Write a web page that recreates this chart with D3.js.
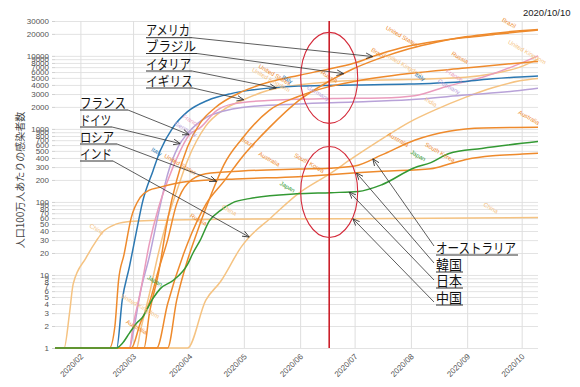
<!DOCTYPE html>
<html>
<head>
<meta charset="utf-8">
<script src="https://cdnjs.cloudflare.com/ajax/libs/d3/7.8.5/d3.min.js"></script>
<style>
    body { margin: 0; background: #fff; }
    #chart { width: 580px; height: 387px; }
    .axis text { font-family: Arial, "Liberation Sans", sans-serif; fill: #555; }
</style>
</head>
<body>
<div id="chart"></div>
<script>
// cumulative cases per million people (values below 1 sit on the 1 line)
const chinaCases = [["2020-01-18",1],["2020-01-23",1],["2020-01-26",3],["2020-01-28",7.5],["2020-02-04",17],["2020-02-10",30],["2020-02-13",38],["2020-02-21",50],["2020-02-28",54],["2020-03-15",56],["2020-04-20",58],["2020-06-30",59],["2020-10-10",61]];
const indiaCases = [["2020-01-18",1],["2020-03-31",1],["2020-04-10",4.5],["2020-04-18",8],["2020-04-30",25],["2020-05-04",33],["2020-05-15",58],["2020-05-31",130],["2020-06-17",240],["2020-06-30",400],["2020-07-15",700],["2020-07-31",1230],["2020-08-15",1850],["2020-08-31",2700],["2020-09-15",3650],["2020-09-30",4550],["2020-10-10",4900]];
const ukCases = [["2020-01-18",1],["2020-03-03",1],["2020-03-05",1.7],["2020-03-10",5.5],["2020-03-15",20],["2020-03-20",59],["2020-03-25",140],["2020-03-31",370],["2020-04-10",1090],["2020-04-20",1840],["2020-04-30",2450],["2020-05-15",3400],["2020-05-31",4000],["2020-06-17",4400],["2020-06-30",4600],["2020-07-31",4750],["2020-08-31",5100],["2020-09-15",5700],["2020-09-30",7000],["2020-10-10",9000]];
const germanyCases = [["2020-01-18",1],["2020-02-28",1],["2020-03-01",1.6],["2020-03-05",5.8],["2020-03-10",18],["2020-03-15",70],["2020-03-20",238],["2020-03-26",580],["2020-03-31",865],["2020-04-10",1420],["2020-04-20",1755],["2020-04-30",1965],["2020-05-31",2200],["2020-06-30",2330],["2020-07-31",2500],["2020-08-31",2900],["2020-09-30",3350],["2020-10-10",3600]];
const franceCases = [["2020-01-18",1],["2020-02-28",1],["2020-03-01",2],["2020-03-05",5.8],["2020-03-10",27],["2020-03-15",83],["2020-03-20",193],["2020-03-25",392],["2020-04-01",830],["2020-04-07",1040],["2020-04-16",1780],["2020-04-25",2200],["2020-05-14",2450],["2020-06-19",2600],["2020-07-16",2650],["2020-08-03",2850],["2020-08-22",3900],["2020-09-09",5050],["2020-09-27",7300],["2020-10-10",10000]];
const italyCases = [["2020-01-18",1],["2020-02-21",1],["2020-02-24",4.5],["2020-02-28",13],["2020-03-03",41],["2020-03-06",95],["2020-03-12",268],["2020-03-16",505],["2020-03-23",1050],["2020-03-31",1720],["2020-04-11",2450],["2020-04-24",3040],["2020-05-03",3340],["2020-05-31",3850],["2020-06-30",3990],["2020-07-31",4110],["2020-08-31",4460],["2020-09-15",4850],["2020-09-30",5150],["2020-10-10",5300]];
const japanCases = [["2020-01-18",1],["2020-02-21",1],["2020-02-24",1.15],["2020-02-28",1.6],["2020-03-03",2.2],["2020-03-06",2.6],["2020-03-12",4.8],["2020-03-16",6.5],["2020-03-23",8.4],["2020-03-31",14],["2020-04-03",20],["2020-04-07",30],["2020-04-12",55],["2020-04-18",76],["2020-04-25",98],["2020-05-04",111],["2020-05-30",129],["2020-06-18",134],["2020-07-03",139],["2020-07-16",172],["2020-08-03",294],["2020-08-12",345],["2020-08-22",460],["2020-09-09",540],["2020-10-10",670]];
const koreaCases = [["2020-01-18",1],["2020-02-17",1],["2020-02-20",2],["2020-02-22",8.4],["2020-02-25",19],["2020-02-29",61],["2020-03-05",116],["2020-03-10",145],["2020-03-15",157],["2020-03-31",190],["2020-04-30",208],["2020-05-31",222],["2020-06-17",236],["2020-07-02",250],["2020-07-16",263],["2020-08-12",285],["2020-08-22",330],["2020-09-01",385],["2020-09-15",430],["2020-09-30",450],["2020-10-10",465]];
const australiaCases = [["2020-01-18",1],["2020-02-29",1],["2020-03-05",2.2],["2020-03-10",4.2],["2020-03-15",11.7],["2020-03-20",30],["2020-03-25",94],["2020-03-31",179],["2020-04-10",243],["2020-04-30",265],["2020-05-31",282],["2020-06-17",290],["2020-07-01",310],["2020-07-16",440],["2020-08-03",700],["2020-08-22",930],["2020-09-10",1030],["2020-10-10",1050]];
const russiaCases = [["2020-01-18",1],["2020-03-20",1],["2020-03-25",4.5],["2020-03-31",16],["2020-04-05",37],["2020-04-10",81],["2020-04-15",168],["2020-04-20",322],["2020-04-30",733],["2020-05-15",1795],["2020-05-31",2775],["2020-06-17",3790],["2020-06-30",4430],["2020-07-31",5720],["2020-08-31",6800],["2020-09-30",8000],["2020-10-10",8400]];
const brazilCases = [["2020-01-18",1],["2020-03-14",1],["2020-03-20",4],["2020-03-31",27],["2020-04-10",92],["2020-04-20",191],["2020-04-30",410],["2020-05-15",1040],["2020-05-31",2420],["2020-06-17",4500],["2020-06-30",6600],["2020-07-15",9300],["2020-07-31",12500],["2020-08-15",15400],["2020-08-31",18200],["2020-09-15",20300],["2020-09-30",22000],["2020-10-10",23000]];
const usCases = [["2020-01-18",1],["2020-03-07",1],["2020-03-10",3],["2020-03-15",10.6],["2020-03-20",57],["2020-03-25",197],["2020-03-31",568],["2020-04-07",1210],["2020-04-15",1930],["2020-04-30",3230],["2020-05-15",4380],["2020-05-31",5400],["2020-06-17",6600],["2020-06-30",7850],["2020-07-15",10600],["2020-07-31",13600],["2020-08-15",15800],["2020-08-31",17800],["2020-09-15",19500],["2020-09-30",21300],["2020-10-10",22500]];

const yTicks = [1,2,3,4,5,6,7,8,9,10,20,30,40,50,60,70,80,90,100,200,300,400,500,600,700,800,900,
    1000,2000,3000,4000,5000,6000,7000,8000,9000,10000,20000,30000];
const dateRange = ["2020-01-18", "2020-10-10"];
const asOfDate = "2020/10/10";
const yTitle = "人口100万人あたりの感染者数";
const markDate = "2020-06-17";
const circleValues = [5000, 137];

// small in-line labels: country, date along its line, vertical offset
const lineLabels = [
    ["China","2020-02-10",-11],["Australia","2020-03-03",-6],["United Kingdom","2020-03-05",-25],
    ["Japan","2020-03-13",-15],["Italy","2020-03-14",-9],["United States","2020-03-27",-5],
    ["Germany","2020-03-30",-7],["France","2020-04-02",-13],["Russia","2020-04-06",-9],
    ["China","2020-04-23",-9],["Brazil","2020-05-03",-9],["Australia","2020-05-15",-11],
    ["United Kingdom","2020-05-16",-10],["United States","2020-05-18",-6],["Italy","2020-05-25",-8],
    ["Japan","2020-05-25",-8],["South Korea","2020-06-06",-13],["Germany","2020-06-11",-10],
    ["Russia","2020-06-17",-10],["Brazil","2020-07-14",-6],["Australia","2020-07-25",-8],
    ["United States","2020-07-27",-12],["United Kingdom","2020-07-28",-15],["Japan","2020-08-05",-11],
    ["Italy","2020-08-06",-7],["India","2020-08-12",-10],["South Korea","2020-08-17",-14],
    ["Germany","2020-08-22",-10],["France","2020-08-25",-9],["Russia","2020-08-28",-11],
    ["China","2020-09-14",-10],["Brazil","2020-09-24",-9],["United Kingdom","2020-10-04",-12],
    ["Australia","2020-10-05",-10]
];

// Japanese call-outs: label, country, date the arrow points at
const leftNotes = [
    ["アメリカ","United States","2020-07-11"],["ブラジル","Brazil","2020-06-25"],
    ["イタリア","Italy","2020-05-19"],["イギリス","United Kingdom","2020-05-01"],
    ["フランス","France","2020-04-01"],["ドイツ","Germany","2020-03-27"],
    ["ロシア","Russia","2020-04-16"],["インド","India","2020-05-04"]
];
const rightNotes = [
    ["オーストラリア","Australia","2020-07-11"],["韓国","South Korea","2020-07-02"],
    ["日本","Japan","2020-06-28"],["中国","China","2020-06-30"]
];

const orange = "#ee8a2c", peach = "#f5c382";
const seriesList = [
    { name: "China", color: peach, data: chinaCases },
    { name: "India", color: peach, data: indiaCases },
    { name: "United Kingdom", color: peach, data: ukCases },
    { name: "Germany", color: "#b8a2d8", data: germanyCases },
    { name: "France", color: "#ea9cbd", data: franceCases },
    { name: "Italy", color: "#2c78b2", data: italyCases },
    { name: "Australia", color: orange, data: australiaCases },
    { name: "South Korea", color: orange, data: koreaCases },
    { name: "Russia", color: orange, data: russiaCases },
    { name: "Brazil", color: orange, data: brazilCases },
    { name: "United States", color: orange, data: usCases },
    { name: "Japan", color: "#339933", data: japanCases }
];

// where the call-out texts sit (pixels): x, underline y, text width, underline end
const leftLayout = [[146,37.7,44,192],[146,53.5,50,197],[146,71,45,192],[146,88,47,193],
    [80,110,46,128],[80,127,31,112],[80,144,34,117],[80,161,32,113]];
const rightLayout = [[436,255,80,518,246],[436,272,26,463,263],[436,288,26,463,280],[436,305,26,463,302]];

const parseDate = d3.timeParse("%Y-%m-%d");

class CasesChart {
    constructor(parentElement) {
        this.parentElement = parentElement;
        this.series = seriesList.map(s => ({
            name: s.name,
            color: s.color,
            values: s.data.map(d => ({ date: parseDate(d[0]), value: d[1] }))
        }));
        this.initVis();
    }

    initVis() {
        let vis = this;

        vis.margin = { top: 21, right: 42, bottom: 39, left: 55 };
        vis.width = 580 - vis.margin.left - vis.margin.right;
        vis.height = 387 - vis.margin.top - vis.margin.bottom;

        vis.root = d3.select("#" + vis.parentElement).append("svg")
            .attr("width", 580)
            .attr("height", 387);

        vis.svg = vis.root.append("g")
            .attr("transform", `translate(${vis.margin.left},${vis.margin.top})`);

        vis.x = d3.scaleTime()
            .domain(dateRange.map(parseDate))
            .range([0, vis.width]);

        vis.y = d3.scaleLog()
            .domain([1, 30000])
            .range([vis.height, 0]);

        // grid
        vis.svg.append("g")
            .attr("class", "grid")
            .call(d3.axisLeft(vis.y).tickValues(yTicks).tickSize(-vis.width).tickFormat(""))
            .call(g => g.select(".domain").remove())
            .call(g => g.selectAll("line").attr("stroke", "#e3e3e3"));

        vis.svg.append("g")
            .attr("class", "grid")
            .attr("transform", `translate(0,${vis.height})`)
            .call(d3.axisBottom(vis.x).ticks(d3.timeMonth.every(1)).tickSize(-vis.height).tickFormat(""))
            .call(g => g.select(".domain").remove())
            .call(g => g.selectAll("line").attr("stroke", "#dedede"));

        // axes
        vis.svg.append("g")
            .attr("class", "axis")
            .call(d3.axisLeft(vis.y).tickValues(yTicks).tickSize(3).tickPadding(3).tickFormat(d => d))
            .call(g => g.select(".domain").remove())
            .call(g => g.selectAll("line").attr("stroke", "#d0d0d0"))
            .call(g => g.selectAll("text").style("font-size", "8px"));

        vis.svg.append("g")
            .attr("class", "axis")
            .attr("transform", `translate(0,${vis.height})`)
            .call(d3.axisBottom(vis.x).ticks(d3.timeMonth.every(1)).tickSize(0).tickFormat(d3.timeFormat("%Y/%m")))
            .call(g => g.select(".domain").remove())
            .call(g => g.selectAll("text")
                .attr("x", 0).attr("y", 0).attr("dy", "0.35em")
                .attr("transform", "translate(1,7) rotate(-45)")
                .style("text-anchor", "end")
                .style("font-size", "8px"));

        vis.root.append("text")
            .attr("transform", "translate(24,180) rotate(-90)")
            .attr("text-anchor", "middle")
            .style("font-family", "'Noto Sans CJK JP', sans-serif")
            .style("font-size", "10px")
            .style("fill", "#444")
            .text(yTitle);

        vis.root.append("text")
            .attr("x", 523)
            .attr("y", 16)
            .style("font-family", "Arial, 'Liberation Sans', sans-serif")
            .style("font-size", "9.5px")
            .style("fill", "#222")
            .text(asOfDate);

        vis.line = d3.line()
            .x(d => vis.x(d.date))
            .y(d => vis.y(d.value))
            .curve(d3.curveMonotoneX);

        vis.drawLines();
        vis.drawMarks();
        vis.drawNotes();
    }

    valueAt(name, date) {
        let pts = this.series.find(s => s.name === name).values;
        let t = +date;
        for (let i = 1; i < pts.length; i++) {
            if (t <= +pts[i].date) {
                let f = (t - pts[i - 1].date) / (pts[i].date - pts[i - 1].date);
                return Math.pow(10, Math.log10(pts[i - 1].value) * (1 - f) + Math.log10(pts[i].value) * f);
            }
        }
        return pts[pts.length - 1].value;
    }

    drawLines() {
        let vis = this;

        vis.svg.selectAll(".country")
            .data(vis.series)
            .enter()
            .append("path")
            .attr("class", "country")
            .attr("fill", "none")
            .attr("stroke", d => d.color)
            .attr("stroke-width", 1.5)
            .attr("d", d => vis.line(d.values));

        vis.svg.selectAll(".line-label")
            .data(lineLabels)
            .enter()
            .append("text")
            .attr("class", "line-label")
            .attr("transform", d => {
                let dt = parseDate(d[1]);
                return `translate(${vis.x(dt)},${vis.y(vis.valueAt(d[0], dt)) + d[2]}) rotate(30)`;
            })
            .attr("text-anchor", "middle")
            .attr("dy", "0.35em")
            .style("font-family", "Arial, 'Liberation Sans', sans-serif")
            .style("font-size", "6px")
            .style("fill", d => vis.series.find(s => s.name === d[0]).color)
            .text(d => d[0]);
    }

    drawMarks() {
        let vis = this;
        let mx = vis.x(parseDate(markDate));

        vis.svg.append("line")
            .attr("x1", mx).attr("x2", mx)
            .attr("y1", 0).attr("y2", vis.height)
            .attr("stroke", "#c8101c")
            .attr("stroke-width", 1.5);

        vis.svg.selectAll(".ring")
            .data(circleValues)
            .enter()
            .append("ellipse")
            .attr("class", "ring")
            .attr("cx", mx)
            .attr("cy", d => vis.y(d))
            .attr("rx", 28.5)
            .attr("ry", 45.5)
            .attr("fill", "none")
            .attr("stroke", "#d42a3a")
            .attr("stroke-width", 1.1);
    }

    drawNotes() {
        let vis = this;
        let m = vis.margin;

        vis.root.append("defs").append("marker")
            .attr("id", "arrow")
            .attr("viewBox", "0 0 10 10")
            .attr("refX", 10).attr("refY", 5)
            .attr("markerUnits", "userSpaceOnUse")
            .attr("markerWidth", 7).attr("markerHeight", 7)
            .attr("orient", "auto")
            .append("path")
            .attr("d", "M0,1 L10,5 L0,9")
            .attr("fill", "none")
            .attr("stroke", "#333")
            .attr("stroke-width", 1.2);

        let target = (name, ds) => {
            let dt = parseDate(ds);
            return [vis.x(dt) + m.left, vis.y(vis.valueAt(name, dt)) + m.top];
        };

        let noteText = (label, lx, ly, w) => {
            vis.root.append("text")
                .attr("x", lx)
                .attr("y", ly - 2.5)
                .attr("textLength", w)
                .attr("lengthAdjust", "spacingAndGlyphs")
                .style("font-family", "'Noto Sans CJK JP', sans-serif")
                .style("font-size", "13.5px")
                .style("fill", "#111")
                .text(label);
        };

        leftNotes.forEach((n, i) => {
            let [lx, ly, w, end] = leftLayout[i];
            let [tx, ty] = target(n[1], n[2]);
            noteText(n[0], lx, ly, w);
            vis.root.append("line")
                .attr("x1", lx).attr("x2", end)
                .attr("y1", ly).attr("y2", ly)
                .attr("stroke", "#333").attr("stroke-width", 1);
            vis.root.append("line")
                .attr("x1", end).attr("y1", ly)
                .attr("x2", tx).attr("y2", ty)
                .attr("stroke", "#333").attr("stroke-width", 0.8)
                .attr("marker-end", "url(#arrow)");
        });

        rightNotes.forEach((n, i) => {
            let [lx, ly, w, end, sy] = rightLayout[i];
            let [tx, ty] = target(n[1], n[2]);
            noteText(n[0], lx, ly, w);
            vis.root.append("line")
                .attr("x1", lx).attr("x2", end)
                .attr("y1", ly).attr("y2", ly)
                .attr("stroke", "#333").attr("stroke-width", 1);
            vis.root.append("line")
                .attr("x1", lx - 2).attr("y1", sy)
                .attr("x2", tx).attr("y2", ty)
                .attr("stroke", "#333").attr("stroke-width", 0.8)
                .attr("marker-end", "url(#arrow)");
        });
    }
}

new CasesChart("chart");
</script>
</body>
</html>
